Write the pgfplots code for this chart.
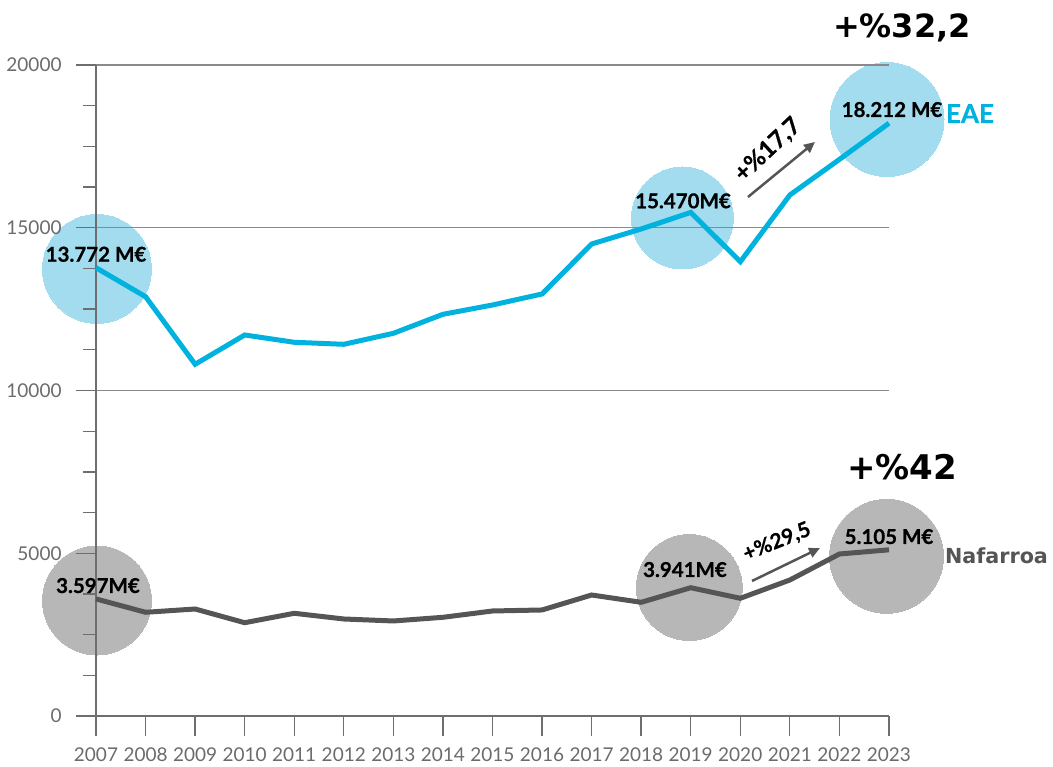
\documentclass[border=0pt]{standalone}
\usepackage{fontspec}
\setmainfont{Lato}
\newfontfamily\heavy{Lato}[BoldFeatures={FakeBold=0.6}]
\newfontfamily\wide{DejaVu Sans}
\usepackage{pgfplots}
\pgfplotsset{compat=1.18}
\usetikzlibrary{calc,arrows.meta}
\definecolor{eae}{HTML}{00B2DE}
\definecolor{eaelight}{HTML}{A3DCEE}
\definecolor{naf}{HTML}{555555}
\definecolor{naflight}{HTML}{B7B7B7}
\definecolor{axisgray}{HTML}{6E6E6E}
\definecolor{gridgray}{HTML}{8A8A8A}
\definecolor{ticktext}{HTML}{6B6B6B}

\begin{document}
\begin{tikzpicture}
\begin{axis}[
    name=ax,
    scale only axis,
    width=793pt, height=651pt,
    xmin=2007, xmax=2023, ymin=0, ymax=20000,
    axis x line=bottom, axis y line=left,
    axis line style={-, draw=axisgray, line width=1.3pt},
    xtick={2007,...,2023},
    ytick={0,5000,...,20000},
    scaled y ticks=false,
    minor y tick num=3,
    tick align=outside,
    major tick length=20pt, minor tick length=13pt,
    tick style={draw=axisgray, line width=1.3pt},
    extra y ticks={10000,15000,20000},
    extra y tick labels={,,},
    extra y tick style={grid=major, major grid style={draw=gridgray, line width=1.3pt}},
    /pgf/number format/1000 sep={},
    /pgf/number format/assume math mode=true,
    ticklabel style={font=\fontsize{19}{21}\selectfont, text=ticktext},
    yticklabel style={xshift=-11pt},
    xticklabel style={yshift=-8pt},
    clip=false,
    set layers,
    mark layer=axis background,
]
% circles behind the lines
\addplot[on layer=axis background, only marks, mark=*, color=eaelight, line width=0pt, mark size=54.5pt] coordinates {(2007.02,13733)};
\addplot[on layer=axis background, only marks, mark=*, color=eaelight, line width=0pt, mark size=51pt] coordinates {(2018.83,15300)};
\addplot[on layer=axis background, only marks, mark=*, color=eaelight, line width=0pt, mark size=57pt] coordinates {(2022.96,18326)};
\addplot[on layer=axis background, only marks, mark=*, color=naflight, line width=0pt, mark size=54.5pt] coordinates {(2007.02,3548)};
\addplot[on layer=axis background, only marks, mark=*, color=naflight, line width=0pt, mark size=53pt] coordinates {(2018.97,3948)};
\addplot[on layer=axis background, only marks, mark=*, color=naflight, line width=0pt, mark size=57pt] coordinates {(2022.95,4906)};

% EAE
\addplot[eae, line width=5pt, mark=none] coordinates {
(2007,13772) (2008,12882) (2009,10805) (2010,11705) (2011,11481) (2012,11419)
(2013,11757) (2014,12341) (2015,12627) (2016,12965) (2017,14501) (2018,14962)
(2019,15470) (2020,13957) (2021,16006) (2022,17100) (2023,18212)
};
% Nafarroa
\addplot[naf, line width=5pt, mark=none] coordinates {
(2007,3597) (2008,3186) (2009,3287) (2010,2866) (2011,3155) (2012,2980)
(2013,2919) (2014,3032) (2015,3226) (2016,3257) (2017,3717) (2018,3493)
(2019,3941) (2020,3616) (2021,4178) (2022,4977) (2023,5105)
};
\end{axis}

\begin{scope}[shift={($(ax.south west)+(-96pt,716pt)$)}, x=1pt, y=-1pt]
  \tikzset{lbl/.style={anchor=base, inner sep=0pt, font=\heavy\bfseries\fontsize{20.5}{22}\selectfont, text=black}}
  \node[lbl] at (96,261.7) {13.772 M€};
  \node[lbl] at (683,208.3) {15.470M€};
  \node[lbl] at (892,117) {18.212 M€};
  \node[lbl] at (98,593) {3.597M€};
  \node[lbl] at (685,577) {3.941M€};
  \node[lbl] at (889,544) {5.105 M€};

  \node[anchor=base, inner sep=0pt, font=\wide\bfseries\fontsize{32}{34}\selectfont] at (902,38) {+\%32,2};
  \node[anchor=base, inner sep=0pt, font=\wide\bfseries\fontsize{34}{36}\selectfont] at (902,480) {+\%42};

  \node[anchor=base, inner sep=0pt, font=\heavy\bfseries\fontsize{26}{28}\selectfont, text=eae] at (970,123) {EAE};
  \node[anchor=base, inner sep=0pt, font=\wide\bfseries\fontsize{20.7}{22}\selectfont, text=naf] at (996.5,564) {Nafarroa};

  \draw[naf, line width=2.5pt, -{Triangle[length=11pt,width=10pt]}] (748,197) -- (815,142);
  \node[rotate=43, inner sep=0pt, font=\heavy\bfseries\fontsize{24}{26}\selectfont] at (768,150) {+\%17,7};

  \draw[naf, line width=2.5pt, -{Triangle[length=11pt,width=10pt]}] (752,581) -- (820,548);
  \node[rotate=22, inner sep=0pt, font=\heavy\bfseries\fontsize{21}{23}\selectfont] at (777,542) {+\%29,5};

  \pgfresetboundingbox
  \path[use as bounding box] (0,0) rectangle (1053,767);
\end{scope}
\end{tikzpicture}
\end{document}
